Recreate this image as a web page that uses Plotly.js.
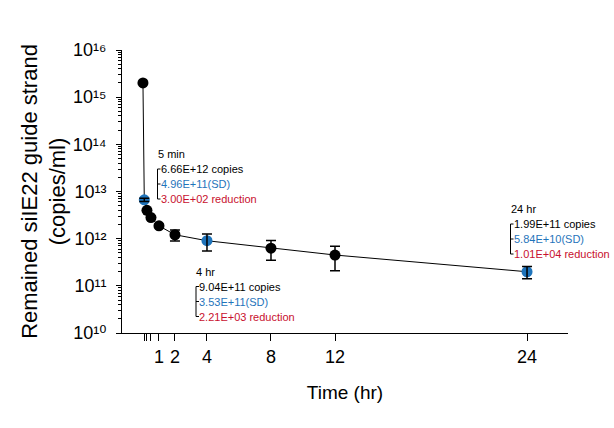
<!DOCTYPE html>
<html>
<head>
<meta charset="utf-8">
<script src="https://cdn.plot.ly/plotly-3.0.1.min.js"></script>
<style>
  html, body { margin: 0; padding: 0; background: #ffffff; }
  #chart { width: 614px; height: 428px; }
</style>
</head>
<body>
<div id="chart"></div>
<script>
// ---- data ----
const times = [0, 0.083, 0.25, 0.5, 1, 2, 4, 8, 12, 24];
const copies = [2.0e15, 6.66e12, 4.0e12, 2.8e12, 1.87e12, 1.21e12, 9.04e11, 6.3e11, 4.5e11, 1.99e11];
const sdCopies = [0, 4.96e11, 3e11, 2e11, 1.5e11, 3.2e11, 3.53e11, 2.8e11, 2.4e11, 5.84e10];
const highlightedTimes = [0.083, 4, 24];

const xTickVals = [1, 2, 4, 8, 12, 24];
const xTickText = ['1', '2', '4', '8', '12', '24'];
const xMinorTickVals = [0.083, 0.25, 0.5];
const yTickVals = [1e10, 1e11, 1e12, 1e13, 1e14, 1e15, 1e16];
const yTickText = ['10\u00B9\u2070', '10\u00B9\u00B9', '10\u00B9\u00B2', '10\u00B9\u00B3',
                   '10\u00B9\u2074', '10\u00B9\u2075', '10\u00B9\u2076'];

const noteHeaders = ['5 min', '4 hr', '24 hr'];
const noteCopies = ['6.66E+12 copies', '9.04E+11 copies', '1.99E+11 copies'];
const noteSD = ['4.96E+11(SD)', '3.53E+11(SD)', '5.84E+10(SD)'];
const noteReduction = ['3.00E+02 reduction', '2.21E+03 reduction', '1.01E+04 reduction'];

// ---- styling / layout ----
const BLUE = '#1f74bb';
const RED = '#c8102e';
const FONT = 'Arial, "Liberation Sans", "DejaVu Sans", sans-serif';
const W = 614, H = 428;
const M = {l: 122, r: 46, t: 50, b: 95};
const PW = W - M.l - M.r, PH = H - M.t - M.b;
const px = x => (x - M.l) / PW;
const py = y => (H - M.b - y) / PH;

// note anchor positions (bracket x, header y) in pixels
const noteAnchors = [[157.5, 154], [196, 271.5], [510.5, 209]];
const lineGap = 15;

const colors = times.map(t => highlightedTimes.includes(t) ? BLUE : 'black');

const traces = [
  {
    x: times, y: copies, type: 'scatter', mode: 'lines+markers',
    line: {color: 'black', width: 1},
    marker: {size: 11, color: colors, line: {width: 0}},
    hoverinfo: 'x+y'
  },
  {
    x: times, y: copies, type: 'scatter', mode: 'markers',
    marker: {size: 11, opacity: 0},
    error_y: {type: 'data', array: sdCopies, visible: true, color: 'black', thickness: 1.5, width: 5},
    hoverinfo: 'skip'
  }
];

const annotations = [];
const shapes = [];
noteAnchors.forEach(([bx, hy], i) => {
  annotations.push({xref: 'paper', yref: 'paper', x: px(bx - 2), y: py(hy), xanchor: 'left', yanchor: 'middle',
    text: noteHeaders[i], showarrow: false, font: {family: FONT, size: 11, color: 'black'}});
  const rows = [[noteCopies[i], 'black'], [noteSD[i], BLUE], [noteReduction[i], RED]];
  rows.forEach(([txt, col], j) => {
    const ly = hy + lineGap * (j + 1);
    annotations.push({xref: 'paper', yref: 'paper', x: px(bx + 1), y: py(ly), xanchor: 'left', yanchor: 'middle',
      text: txt, showarrow: false, font: {family: FONT, size: 11, color: col}});
    shapes.push({type: 'line', xref: 'paper', yref: 'paper', x0: px(bx), x1: px(bx + 3), y0: py(ly), y1: py(ly),
      line: {color: 'black', width: 1}});
  });
  shapes.push({type: 'line', xref: 'paper', yref: 'paper', x0: px(bx), x1: px(bx),
    y0: py(hy + lineGap), y1: py(hy + lineGap * 3), line: {color: 'black', width: 1}});
});

const layout = {
  width: W, height: H,
  margin: {l: M.l, r: M.r, t: M.t, b: M.b, pad: 0},
  paper_bgcolor: '#ffffff', plot_bgcolor: '#ffffff',
  showlegend: false,
  font: {family: FONT, color: 'black'},
  xaxis: {
    range: [-1.31, 26.56],
    tickmode: 'array', tickvals: xTickVals, ticktext: xTickText,
    ticks: 'outside', ticklen: 7, tickwidth: 1, tickcolor: 'black',
    minor: {tickmode: 'array', tickvals: xMinorTickVals, ticks: 'outside', ticklen: 7, tickwidth: 1, tickcolor: 'black', showgrid: false},
    showline: true, linecolor: 'black', linewidth: 1,
    showgrid: false, zeroline: false,
    tickfont: {family: FONT, size: 18, color: 'black'},
    title: {text: 'Time (hr)', font: {family: FONT, size: 19, color: 'black'}, standoff: 20}
  },
  yaxis: {
    type: 'log', range: [10, 16],
    tickmode: 'array', tickvals: yTickVals, ticktext: yTickText,
    ticks: 'outside', ticklen: 5, tickwidth: 1, tickcolor: 'black',
    minor: {ticks: 'outside', ticklen: 3, dtick: 'D1', tickcolor: 'black', tickwidth: 1, showgrid: false},
    showline: true, linecolor: 'black', linewidth: 1,
    showgrid: false, zeroline: false,
    tickfont: {family: FONT, size: 18, color: 'black'},
    ticklabelstandoff: 6,
    title: {text: 'Remained siIE22 guide strand<br>(copies/ml)', font: {family: FONT, size: 22, color: 'black'}, standoff: 0}
  },
  annotations: annotations,
  shapes: shapes
};

Plotly.newPlot('chart', traces, layout, {displayModeBar: false, staticPlot: true});
</script>
</body>
</html>
